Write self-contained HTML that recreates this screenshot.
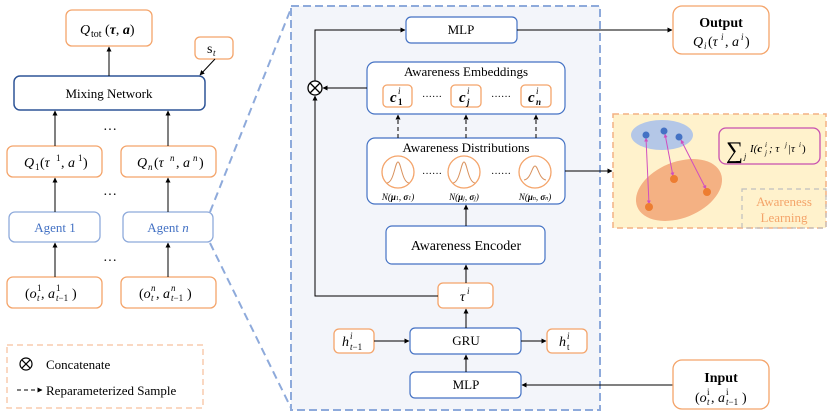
<!DOCTYPE html>
<html><head><meta charset="utf-8"><style>
html,body{margin:0;padding:0;background:#fff;}
svg text{font-family:"Liberation Serif","DejaVu Serif",serif;}
.i{font-style:italic;}
</style></head><body>
<svg width="831" height="414" viewBox="0 0 831 414" xmlns="http://www.w3.org/2000/svg" font-family="Liberation Serif, serif">
<defs>
<marker id="a" viewBox="0 0 10 10" refX="9" refY="5" markerWidth="5" markerHeight="5" orient="auto"><path d="M0,0L10,5L0,10z" fill="#000"/></marker>
<marker id="m" viewBox="0 0 10 10" refX="9" refY="5" markerWidth="4" markerHeight="4" orient="auto-start-reverse"><path d="M0,0L10,5L0,10z" fill="#d04fbf"/></marker>
</defs>
<line x1="210" y1="212" x2="292" y2="6" stroke="#8eaadb" stroke-width="2" stroke-dasharray="8,5"/>
<line x1="210" y1="243" x2="292" y2="410" stroke="#8eaadb" stroke-width="2" stroke-dasharray="8,5"/>
<g fill="#fff" stroke="#f4a46a" stroke-width="1.3">
<rect x="66" y="10" width="86" height="36" rx="6"/>
<rect x="195" y="37" width="38" height="22" rx="5"/>
<rect x="7" y="146" width="95" height="31" rx="6"/>
<rect x="121" y="146" width="95" height="31" rx="6"/>
<rect x="7" y="277" width="95" height="31" rx="6"/>
<rect x="121" y="277" width="95" height="31" rx="6"/>
</g>
<rect x="14" y="76" width="191" height="34" rx="6" fill="#fff" stroke="#2f5597" stroke-width="1.5"/>
<rect x="9" y="212" width="91" height="30" rx="6" fill="#fff" stroke="#8eaadb" stroke-width="1.3"/>
<rect x="123" y="212" width="90" height="30" rx="6" fill="#fff" stroke="#8eaadb" stroke-width="1.3"/>
<g font-size="14">
<text x="80" y="34" class="i">Q</text><text x="91" y="37" font-size="10">tot</text><text x="105" y="34">(<tspan font-weight="bold" class="i">τ</tspan>, <tspan font-weight="bold" class="i">a</tspan>)</text>
<text x="207" y="53">s</text><text x="213" y="56" font-size="9" class="i">t</text>
<text x="109" y="98" font-size="13" text-anchor="middle">Mixing Network</text>
<text x="24" y="167" class="i">Q</text><text x="35" y="170" font-size="9">1</text><text x="40" y="167">(<tspan class="i">τ</tspan></text><text x="56" y="161" font-size="9">1</text><text x="61" y="167">, <tspan class="i">a</tspan></text><text x="78" y="161" font-size="9">1</text><text x="83" y="167">)</text>
<text x="137" y="167" class="i">Q</text><text x="148" y="170" font-size="9" class="i">n</text><text x="154" y="167">(<tspan class="i">τ</tspan></text><text x="170" y="161" font-size="9" class="i">n</text><text x="176" y="167">, <tspan class="i">a</tspan></text><text x="193" y="161" font-size="9" class="i">n</text><text x="199" y="167">)</text>
<text x="55" y="232" fill="#4472c4" font-size="13" text-anchor="middle">Agent 1</text>
<text x="168" y="232" fill="#4472c4" font-size="13" text-anchor="middle">Agent <tspan class="i">n</tspan></text>
<text x="25" y="298">(<tspan class="i">o</tspan></text><text x="37" y="301" font-size="9" class="i">t</text><text x="37" y="291" font-size="9">1</text><text x="41" y="298">, <tspan class="i">a</tspan></text><text x="56" y="301" font-size="9"><tspan class="i">t</tspan>−1</text><text x="56" y="291" font-size="9">1</text><text x="72" y="298">)</text>
<text x="139" y="298">(<tspan class="i">o</tspan></text><text x="151" y="301" font-size="9" class="i">t</text><text x="151" y="291" font-size="9" class="i">n</text><text x="156" y="298">, <tspan class="i">a</tspan></text><text x="171" y="301" font-size="9"><tspan class="i">t</tspan>−1</text><text x="171" y="291" font-size="9" class="i">n</text><text x="187" y="298">)</text>
<text x="110" y="134" text-anchor="middle">···</text><text x="110" y="199" text-anchor="middle">···</text><text x="110" y="265" text-anchor="middle">···</text>
</g>
<g stroke="#000" stroke-width="1" marker-end="url(#a)">
<line x1="109" y1="76" x2="109" y2="47"/>
<line x1="215" y1="59" x2="200" y2="75"/>
<line x1="55" y1="146" x2="55" y2="111"/>
<line x1="168" y1="146" x2="168" y2="111"/>
<line x1="55" y1="212" x2="55" y2="178"/>
<line x1="168" y1="212" x2="168" y2="178"/>
<line x1="55" y1="277" x2="55" y2="243"/>
<line x1="168" y1="277" x2="168" y2="243"/>
</g>
<rect x="7" y="345" width="196" height="63" fill="#fff" stroke="#f8cbad" stroke-width="1.5" stroke-dasharray="6,4"/>
<circle cx="26" cy="364" r="6" fill="none" stroke="#000" stroke-width="1.2"/>
<path d="M21.8,359.8L30.2,368.2M30.2,359.8L21.8,368.2" stroke="#000" stroke-width="1.2"/>
<text x="46" y="369" font-size="13">Concatenate</text>
<line x1="17" y1="390" x2="42" y2="390" stroke="#000" stroke-dasharray="4,3" marker-end="url(#a)"/>
<text x="46" y="395" font-size="13">Reparameterized Sample</text>
<rect x="291" y="6" width="309" height="404" fill="#f3f5fa" stroke="#8eaadb" stroke-width="2" stroke-dasharray="8,4"/>
<g fill="#fff" stroke="#4472c4" stroke-width="1.2">
<rect x="406" y="17" width="111" height="26" rx="5"/>
<rect x="367" y="62" width="198" height="52" rx="8"/>
<rect x="367" y="138" width="198" height="66" rx="8"/>
<rect x="386" y="226" width="159" height="38" rx="6"/>
<rect x="410" y="328" width="111" height="26" rx="5"/>
<rect x="410" y="372" width="111" height="26" rx="5"/>
</g>
<g fill="#fff" stroke="#f4a46a" stroke-width="1.3">
<rect x="383" y="85" width="29" height="22" rx="4"/>
<rect x="451" y="85" width="30" height="22" rx="4"/>
<rect x="521" y="85" width="30" height="22" rx="4"/>
<rect x="438" y="283" width="55" height="25" rx="5"/>
<rect x="334" y="329" width="40" height="24" rx="5"/>
<rect x="547" y="329" width="40" height="24" rx="5"/>
<circle cx="398" cy="172" r="16"/><circle cx="464" cy="172" r="16"/><circle cx="535" cy="172" r="16"/>
</g>
<g fill="none" stroke="#d9925e" stroke-width="1">
<path d="M387,183C394,182 395,162 398,162C401,162 402,182 409,183"/>
<path d="M453,183C460,182 461,162 464,162C467,162 468,182 475,183"/>
<path d="M524,180C531,179 532,166 535,166C538,166 539,179 546,180"/>
</g>
<g font-size="13">
<text x="461" y="34" text-anchor="middle">MLP</text>
<text x="466" y="76" text-anchor="middle">Awareness Embeddings</text>
<text x="466" y="152" text-anchor="middle">Awareness Distributions</text>
<text x="466" y="250" font-size="14" text-anchor="middle">Awareness Encoder</text>
<text x="466" y="345" text-anchor="middle">GRU</text>
<text x="466" y="389" text-anchor="middle">MLP</text>
<text x="390" y="102" font-weight="bold" class="i" font-size="15">c</text><text x="398" y="105" font-size="9" font-weight="bold">1</text><text x="398" y="94" font-size="9" class="i">i</text>
<text x="459" y="102" font-weight="bold" class="i" font-size="15">c</text><text x="467" y="105" font-size="9" font-weight="bold" class="i">j</text><text x="467" y="94" font-size="9" class="i">i</text>
<text x="528" y="102" font-weight="bold" class="i" font-size="15">c</text><text x="536" y="105" font-size="9" font-weight="bold" class="i">n</text><text x="536" y="94" font-size="9" class="i">i</text>
<text x="432" y="100" font-size="10" text-anchor="middle">······</text><text x="501" y="100" font-size="10" text-anchor="middle">······</text>
<text x="432" y="177" font-size="10" text-anchor="middle">······</text><text x="501" y="177" font-size="10" text-anchor="middle">······</text>
<text x="398" y="200" font-size="9" class="i" text-anchor="middle">N(<tspan font-weight="bold">μ</tspan><tspan font-size="6">1</tspan>, <tspan font-weight="bold">σ</tspan><tspan font-size="6">1</tspan>)</text>
<text x="464" y="200" font-size="9" class="i" text-anchor="middle">N(<tspan font-weight="bold">μ</tspan><tspan font-size="6">j</tspan>, <tspan font-weight="bold">σ</tspan><tspan font-size="6">j</tspan>)</text>
<text x="535" y="200" font-size="9" class="i" text-anchor="middle">N(<tspan font-weight="bold">μ</tspan><tspan font-size="6">n</tspan>, <tspan font-weight="bold">σ</tspan><tspan font-size="6">n</tspan>)</text>
<text x="460" y="301" font-size="14" class="i">τ</text><text x="467" y="294" font-size="9" class="i">i</text>
<text x="342" y="346" font-size="14" class="i">h</text><text x="350" y="350" font-size="9"><tspan class="i">t</tspan>−1</text><text x="350" y="339" font-size="9" class="i">i</text>
<text x="559" y="346" font-size="14" class="i">h</text><text x="567" y="350" font-size="9">t</text><text x="567" y="339" font-size="9" class="i">i</text>
</g>
<circle cx="315" cy="88" r="7" fill="#fff" stroke="#000" stroke-width="1.3"/>
<path d="M310,83L320,93M320,83L310,93" stroke="#000" stroke-width="1.3"/>
<g stroke="#000" stroke-width="1" fill="none">
<polyline points="438,296 315,296 315,96" marker-end="url(#a)"/>
<polyline points="315,81 315,30 405,30" marker-end="url(#a)"/>
<line x1="367" y1="88" x2="323" y2="88" marker-end="url(#a)"/>
<line x1="398" y1="138" x2="398" y2="115" stroke-dasharray="4,3" marker-end="url(#a)"/>
<line x1="466" y1="138" x2="466" y2="115" stroke-dasharray="4,3" marker-end="url(#a)"/>
<line x1="536" y1="138" x2="536" y2="115" stroke-dasharray="4,3" marker-end="url(#a)"/>
<line x1="466" y1="226" x2="466" y2="205" marker-end="url(#a)"/>
<line x1="466" y1="283" x2="466" y2="265" marker-end="url(#a)"/>
<line x1="466" y1="328" x2="466" y2="309" marker-end="url(#a)"/>
<line x1="466" y1="372" x2="466" y2="355" marker-end="url(#a)"/>
<line x1="374" y1="341" x2="409" y2="341" marker-end="url(#a)"/>
<line x1="521" y1="341" x2="546" y2="341" marker-end="url(#a)"/>
<line x1="517" y1="30" x2="672" y2="30" marker-end="url(#a)"/>
<line x1="565" y1="171" x2="612" y2="171" marker-end="url(#a)"/>
<line x1="673" y1="385" x2="522" y2="385" marker-end="url(#a)"/>
</g>
<rect x="673" y="6" width="96" height="48" rx="9" fill="#fff" stroke="#f4a46a" stroke-width="1.3"/>
<rect x="673" y="360" width="96" height="49" rx="9" fill="#fff" stroke="#f4a46a" stroke-width="1.3"/>
<g font-size="14">
<text x="721" y="27" font-weight="bold" text-anchor="middle">Output</text>
<text x="693" y="46" class="i">Q</text><text x="704" y="49" font-size="9" class="i">i</text><text x="708" y="46">(<tspan class="i">τ</tspan></text><text x="721" y="40" font-size="9" class="i">i</text><text x="725" y="46">, <tspan class="i">a</tspan></text><text x="741" y="40" font-size="9" class="i">i</text><text x="745" y="46">)</text>
<text x="721" y="382" font-weight="bold" text-anchor="middle">Input</text>
<text x="695" y="402">(<tspan class="i">o</tspan></text><text x="707" y="405" font-size="9" class="i">t</text><text x="707" y="395" font-size="9">i</text><text x="711" y="402">, <tspan class="i">a</tspan></text><text x="726" y="405" font-size="9"><tspan class="i">t</tspan>−1</text><text x="726" y="395" font-size="9">i</text><text x="742" y="402">)</text>
</g>
<rect x="613" y="114" width="213" height="114" fill="#fff2cc" stroke="#f4b183" stroke-width="1.5" stroke-dasharray="6,4"/>
<ellipse cx="662" cy="135" rx="31" ry="15" fill="#b4c7e7"/>
<ellipse cx="679" cy="190" rx="45" ry="28" transform="rotate(-22 679 190)" fill="#f4b183"/>
<g stroke="#d04fbf" stroke-width="1" marker-end="url(#m)" marker-start="url(#m)">
<line x1="646" y1="138" x2="649" y2="204"/>
<line x1="665" y1="134" x2="673" y2="176"/>
<line x1="681" y1="140" x2="706" y2="189"/>
</g>
<g fill="#4472c4"><circle cx="646" cy="135" r="3.5"/><circle cx="664" cy="131" r="3.5"/><circle cx="679" cy="137" r="3.5"/></g>
<g fill="#ed7d31"><circle cx="674" cy="179" r="4"/><circle cx="707" cy="192" r="4"/><circle cx="649" cy="207" r="4"/></g>
<rect x="719" y="128" width="101" height="36" rx="7" fill="#fff2cc" stroke="#c850b0" stroke-width="1.3"/>
<text x="726" y="158" font-size="24">∑</text>
<text x="744" y="159" font-size="8" class="i">j</text>
<text x="750" y="152" font-size="11" class="i">I(<tspan font-weight="bold">c</tspan></text><text x="765" y="155" font-size="7" class="i">j</text><text x="765" y="147" font-size="7" class="i">i</text><text x="769" y="152" font-size="11" class="i">; τ</text><text x="785" y="147" font-size="7" class="i">j</text><text x="788" y="152" font-size="11" class="i">|τ</text><text x="799" y="147" font-size="7" class="i">i</text><text x="802" y="152" font-size="11">)</text>
<rect x="742" y="189" width="84" height="39" fill="none" stroke="#bfbfbf" stroke-width="1.2" stroke-dasharray="5,4"/>
<text x="784" y="206" font-size="13" fill="#f4a46a" text-anchor="middle">Awareness</text>
<text x="784" y="222" font-size="13" fill="#f4a46a" text-anchor="middle">Learning</text>
</svg>
</body></html>
